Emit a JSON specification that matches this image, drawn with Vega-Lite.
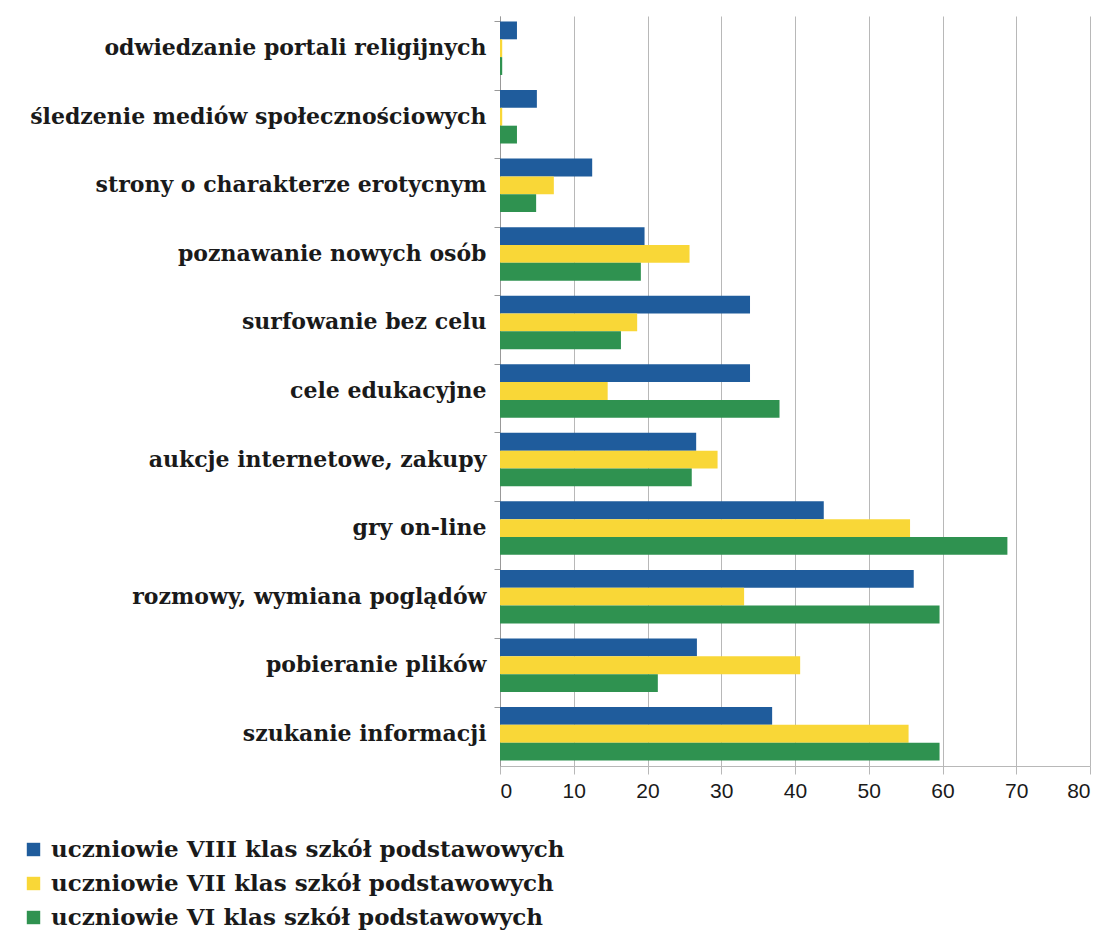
{
  "$schema": "https://vega.github.io/schema/vega-lite/v6.json",
  "width": 590,
  "height": 750,
  "autosize": {"type": "none"},
  "padding": {"left": 500, "top": 16, "right": 16, "bottom": 164},
  "background": "white",
  "data": {"values": [
    {"cat": "odwiedzanie portali religijnych", "grp": "uczniowie VIII klas szkół podstawowych", "o": 1, "v": 2.3},
    {"cat": "odwiedzanie portali religijnych", "grp": "uczniowie VII klas szkół podstawowych", "o": 2, "v": 0.3},
    {"cat": "odwiedzanie portali religijnych", "grp": "uczniowie VI klas szkół podstawowych", "o": 3, "v": 0.3},
    {"cat": "śledzenie mediów społecznościowych", "grp": "uczniowie VIII klas szkół podstawowych", "o": 1, "v": 5},
    {"cat": "śledzenie mediów społecznościowych", "grp": "uczniowie VII klas szkół podstawowych", "o": 2, "v": 0.3},
    {"cat": "śledzenie mediów społecznościowych", "grp": "uczniowie VI klas szkół podstawowych", "o": 3, "v": 2.3},
    {"cat": "strony o charakterze erotycnym", "grp": "uczniowie VIII klas szkół podstawowych", "o": 1, "v": 12.5},
    {"cat": "strony o charakterze erotycnym", "grp": "uczniowie VII klas szkół podstawowych", "o": 2, "v": 7.3},
    {"cat": "strony o charakterze erotycnym", "grp": "uczniowie VI klas szkół podstawowych", "o": 3, "v": 4.9},
    {"cat": "poznawanie nowych osób", "grp": "uczniowie VIII klas szkół podstawowych", "o": 1, "v": 19.6},
    {"cat": "poznawanie nowych osób", "grp": "uczniowie VII klas szkół podstawowych", "o": 2, "v": 25.7},
    {"cat": "poznawanie nowych osób", "grp": "uczniowie VI klas szkół podstawowych", "o": 3, "v": 19.1},
    {"cat": "surfowanie bez celu", "grp": "uczniowie VIII klas szkół podstawowych", "o": 1, "v": 33.9},
    {"cat": "surfowanie bez celu", "grp": "uczniowie VII klas szkół podstawowych", "o": 2, "v": 18.6},
    {"cat": "surfowanie bez celu", "grp": "uczniowie VI klas szkół podstawowych", "o": 3, "v": 16.4},
    {"cat": "cele edukacyjne", "grp": "uczniowie VIII klas szkół podstawowych", "o": 1, "v": 33.9},
    {"cat": "cele edukacyjne", "grp": "uczniowie VII klas szkół podstawowych", "o": 2, "v": 14.6},
    {"cat": "cele edukacyjne", "grp": "uczniowie VI klas szkół podstawowych", "o": 3, "v": 37.9},
    {"cat": "aukcje internetowe, zakupy", "grp": "uczniowie VIII klas szkół podstawowych", "o": 1, "v": 26.6},
    {"cat": "aukcje internetowe, zakupy", "grp": "uczniowie VII klas szkół podstawowych", "o": 2, "v": 29.5},
    {"cat": "aukcje internetowe, zakupy", "grp": "uczniowie VI klas szkół podstawowych", "o": 3, "v": 26},
    {"cat": "gry on-line", "grp": "uczniowie VIII klas szkół podstawowych", "o": 1, "v": 43.9},
    {"cat": "gry on-line", "grp": "uczniowie VII klas szkół podstawowych", "o": 2, "v": 55.6},
    {"cat": "gry on-line", "grp": "uczniowie VI klas szkół podstawowych", "o": 3, "v": 68.8},
    {"cat": "rozmowy, wymiana poglądów", "grp": "uczniowie VIII klas szkół podstawowych", "o": 1, "v": 56.1},
    {"cat": "rozmowy, wymiana poglądów", "grp": "uczniowie VII klas szkół podstawowych", "o": 2, "v": 33.1},
    {"cat": "rozmowy, wymiana poglądów", "grp": "uczniowie VI klas szkół podstawowych", "o": 3, "v": 59.6},
    {"cat": "pobieranie plików", "grp": "uczniowie VIII klas szkół podstawowych", "o": 1, "v": 26.7},
    {"cat": "pobieranie plików", "grp": "uczniowie VII klas szkół podstawowych", "o": 2, "v": 40.7},
    {"cat": "pobieranie plików", "grp": "uczniowie VI klas szkół podstawowych", "o": 3, "v": 21.4},
    {"cat": "szukanie informacji", "grp": "uczniowie VIII klas szkół podstawowych", "o": 1, "v": 36.9},
    {"cat": "szukanie informacji", "grp": "uczniowie VII klas szkół podstawowych", "o": 2, "v": 55.4},
    {"cat": "szukanie informacji", "grp": "uczniowie VI klas szkół podstawowych", "o": 3, "v": 59.6}
  ]},
  "mark": {"type": "bar"},
  "encoding": {
    "y": {
      "field": "cat", "type": "nominal", "sort": null,
      "scale": {"paddingInner": 0.22, "paddingOuter": 0.08},
      "axis": {
        "title": null, "bandPosition": 0, "labelFont": "DejaVu Serif", "labelFontSize": 22, "labelFontWeight": "bold",
        "labelColor": "#1a1a1a", "labelPadding": 8, "tickSize": 6, "tickColor": "#999999",
        "domainColor": "#999999", "labelLimit": 500
      }
    },
    "yOffset": {"field": "o", "type": "ordinal", "scale": {"paddingInner": 0}},
    "x": {
      "field": "v", "type": "quantitative",
      "scale": {"domain": [0, 80]},
      "axis": {
        "title": null, "values": [0,10,20,30,40,50,60,70,80], "labelFont": "Liberation Sans", "labelFontSize": 21,
        "labelColor": "#1a1a1a", "gridColor": "#b8b8b8", "domainColor": "#b8b8b8", "tickColor": "#b8b8b8",
        "tickSize": 8, "labelPadding": 6
      }
    },
    "color": {
      "field": "grp", "type": "nominal",
      "scale": {
        "domain": ["uczniowie VIII klas szkół podstawowych", "uczniowie VII klas szkół podstawowych", "uczniowie VI klas szkół podstawowych"],
        "range": ["#1f5c9c", "#f9d737", "#2f9250"]
      },
      "legend": {
        "title": null, "orient": "none", "legendX": -478, "legendY": 822,
        "symbolType": "square", "symbolSize": 180, "symbolStrokeWidth": 0,
        "labelFont": "DejaVu Serif", "labelFontSize": 23, "labelFontWeight": "bold", "labelColor": "#1a1a1a",
        "rowPadding": 10, "labelOffset": 6, "labelLimit": 600
      }
    }
  },
  "config": {"view": {"stroke": null}}
}
